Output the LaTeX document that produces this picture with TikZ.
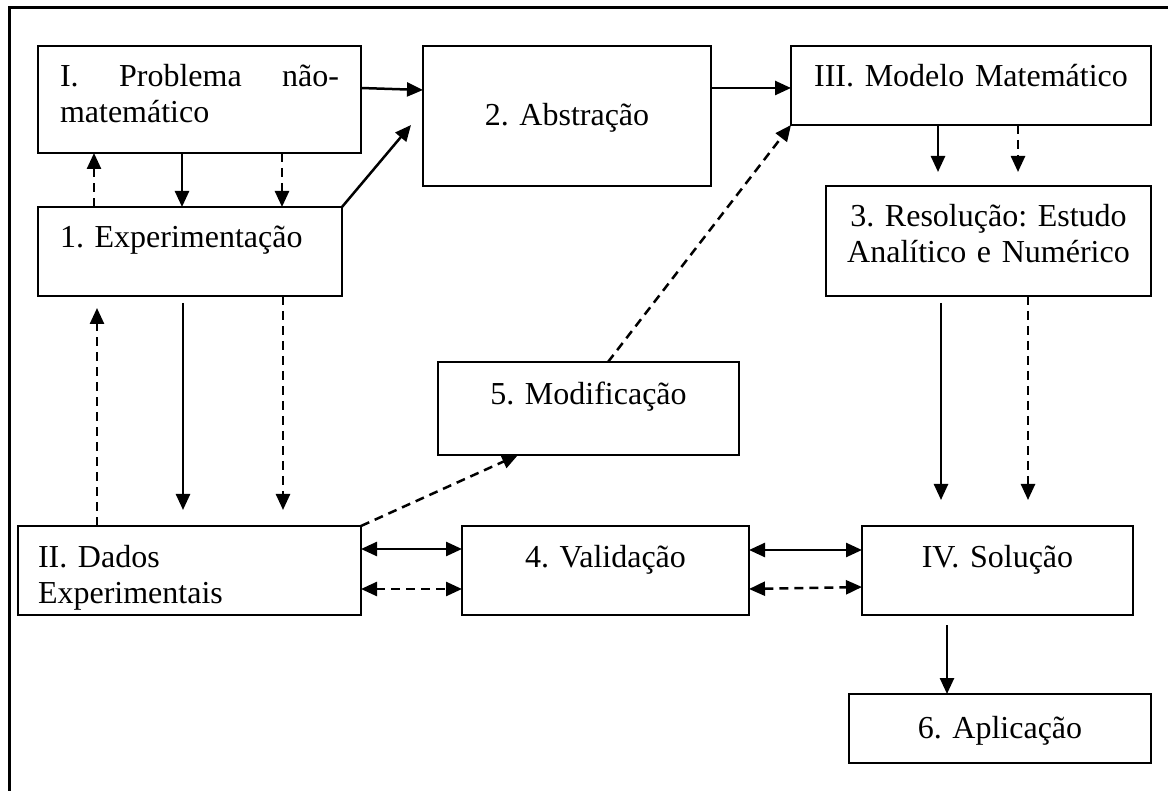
\documentclass[tikz,border=0pt]{standalone}
\usepackage{fontspec}
\setmainfont{Liberation Serif}
\usetikzlibrary{arrows.meta}

\begin{document}
\begin{tikzpicture}[x=1pt,y=-1pt,
    box/.style={draw, line width=2.2pt, anchor=north west, inner xsep=22pt, inner ysep=0pt,
        outer sep=0pt, text height=41pt, font=\fontsize{32}{36}\selectfont\frenchspacing},
    cbox/.style={box, inner xsep=8pt, align=center},
    arr/.style={-{Triangle[length=16pt,width=14pt]}, line width=2.5pt},
    dsh/.style={arr, dash pattern=on 9pt off 6pt},
    darr/.style={{Triangle[length=16pt,width=14pt]}-{Triangle[length=16pt,width=14pt]}, line width=2.5pt},
    ddsh/.style={darr, dash pattern=on 9pt off 6pt}]
    \useasboundingbox (0,0) rectangle (1168,791);
    \draw[line width=3pt] (9,800) -- (9,8) -- (1180,8);

    \node[box, text width=279pt, text depth=66pt, align=left] (bI) at (38,46)
        {I.\hfill Problema\hfill não-\\matemático};
    \node[box, text width=260pt, text depth=48pt, align=left] (b1) at (38,207) {1. Experimentação};
    \node[cbox, text width=272pt, text height=80pt, text depth=60pt] (b2) at (423,46) {2. Abstração};
    \node[cbox, text width=344pt, text depth=38pt] (bIII) at (791,46) {III. Modelo Matemático};
    \node[cbox, text width=309pt, text depth=69pt] (b3) at (826,186)
        {3. Resolução: Estudo\\Analítico e Numérico};
    \node[cbox, text width=285pt, text height=43pt, text depth=50pt] (b5) at (438,362) {5. Modificação};
    \node[box, inner xsep=20pt, text width=303pt, text depth=48pt, align=left] (bII) at (18,526)
        {II. Dados\\Experimentais};
    \node[cbox, text width=271pt, text depth=48pt] (b4) at (462,526) {4. Validação};
    \node[cbox, text width=255pt, text depth=48pt] (bIV) at (862,526) {IV. Solução};
    \node[cbox, text width=286pt, text height=44pt, text depth=25pt] (b6) at (849,694) {6. Aplicação};

    \coordinate (t2) at (411,125);

    \draw[arr] (bI.east |- 0,88) -- (b2.west |- 0,90);
    \draw[arr] (b1.north east) -- (t2);
    \draw[arr] (b2.east |- 0,88) -- (bIII.west |- 0,88);
    \draw[dsh] (608,0 |- b5.north) -- (bIII.south west);
    \draw[dsh] (bII.north east) -- (518,0 |- b5.south);

    \draw[dsh] (94,0 |- b1.north) -- (94,0 |- bI.south);
    \draw[arr] (182,0 |- bI.south) -- (182,0 |- b1.north);
    \draw[dsh] (282,0 |- bI.south) -- (282,0 |- b1.north);

    \draw[dsh, shorten >=12pt] (97,0 |- bII.north) -- (97,0 |- b1.south);
    \draw[arr, shorten <=7pt, shorten >=16pt] (183,0 |- b1.south) -- (183,0 |- bII.north);
    \draw[dsh, shorten >=16pt] (283,0 |- b1.south) -- (283,0 |- bII.north);

    \draw[arr, shorten >=14pt] (938,0 |- bIII.south) -- (938,0 |- b3.north);
    \draw[dsh, shorten >=14pt] (1018,0 |- bIII.south) -- (1018,0 |- b3.north);
    \draw[arr, shorten <=7pt, shorten >=26pt] (941,0 |- b3.south) -- (941,0 |- bIV.north);
    \draw[dsh, shorten >=26pt] (1028,0 |- b3.south) -- (1028,0 |- bIV.north);
    \draw[arr, shorten <=10pt] (947,0 |- bIV.south) -- (947,0 |- b6.north);

    \draw[darr] (bII.east |- 0,549) -- (b4.west |- 0,549);
    \draw[ddsh] (bII.east |- 0,589) -- (b4.west |- 0,589);
    \draw[darr] (b4.east |- 0,550) -- (bIV.west |- 0,550);
    \draw[ddsh] (b4.east |- 0,589) -- (bIV.west |- 0,587);
\end{tikzpicture}
\end{document}
